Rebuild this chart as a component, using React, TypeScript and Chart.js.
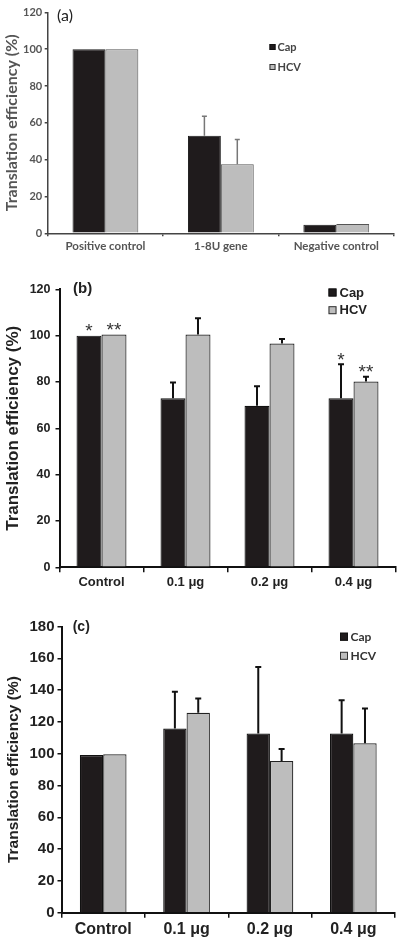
import React, { useEffect, useRef } from "react";
import { Chart, registerables } from "chart.js";

Chart.register(...registerables);

// ---------- DATA ----------
// Panel (a)
const categoriesA = ["Positive control", "1-8U gene", "Negative control"];
const capA = [100, 53, 4.6];
const hcvA = [100, 37.5, 5];
const capErrA = [0, 10.5, 0];
const hcvErrA = [0, 13.5, 0];
const yMaxA = 120;

// Panel (b)
const categoriesB = ["Control", "0.1 μg", "0.2 μg", "0.4 μg"];
const capB = [100, 73, 69.7, 73];
const hcvB = [100.5, 100.5, 96.6, 80.2];
const capErrB = [0, 6.8, 8.5, 14.6];
const hcvErrB = [0, 7, 2, 2];
const capStarsB = ["*", "", "", "*"];
const hcvStarsB = ["**", "", "", "**"];
const yMaxB = 120;

// Panel (c)
const categoriesC = ["Control", "0.1 μg", "0.2 μg", "0.4 μg"];
const capC = [99.2, 115.8, 112.7, 112.7];
const hcvC = [99.6, 125.7, 95.4, 106.5];
const capErrC = [0, 23.2, 41.8, 20.9];
const hcvErrC = [0, 9, 7.6, 21.9];
const yMaxC = 180;

const seriesNames = ["Cap", "HCV"];
const yTitle = "Translation efficiency (%)";
const yStep = 20;

// ---------- STYLE ----------
const ARIAL = "'Liberation Sans', Arial, sans-serif";
const CALI = "Lato, 'Open Sans', sans-serif";

type Panel = {
  label: string;
  categories: string[];
  cap: number[];
  hcv: number[];
  capErr: number[];
  hcvErr: number[];
  capStars?: string[];
  hcvStars?: string[];
  yMax: number;
  st: any;
};

const styleA = {
  height: 258,
  padTop: 12.3,
  padRight: 6,
  yAxisW: 47.7,
  xAxisH: 24.7,
  catPct: 0.57,
  family: CALI,
  tickSize: 11,
  tickWeight: "bold",
  textColor: "#555",
  axisColor: "#444",
  axisWidth: 1.5,
  yTickLen: 3,
  yTickPad: 2.5,
  xTickLen: 3,
  xTickPad: 3.5,
  xTickSize: 11.5,
  titleSize: 16,
  titleWeight: "bold",
  titleFamily: CALI,
  titlePad: 2.4,
  capColor: "#1f1b1c",
  capBorder: "#1a1a1a",
  hcvColor: "#bdbdbd",
  hcvBorder: "#555",
  barBorder: 1,
  errColor: "#777",
  errWidth: 1.5,
  errCap: 4,
  legend: { x: 269.5, y1: 47, y2: 67, box: 6, font: "bold 11px " + CALI, color: "#444", gap: 2 },
  panelLabel: { x: 57, y: 16, font: "16px " + CALI, color: "#222" },
  starFont: "19px " + ARIAL,
};

const styleB = {
  height: 342,
  padTop: 31.3,
  padRight: 4.5,
  yAxisW: 59.5,
  xAxisH: 32.7,
  catPct: 0.595,
  family: ARIAL,
  tickSize: 12.5,
  tickWeight: "bold",
  textColor: "#222",
  axisColor: "#111",
  axisWidth: 2,
  yTickLen: 4,
  yTickPad: 5,
  xTickLen: 5,
  xTickPad: 2.6,
  xTickSize: 13,
  titleSize: 17,
  titleWeight: "bold",
  titleFamily: ARIAL,
  titlePad: 3.1,
  capColor: "#1f1b1c",
  capBorder: "#111",
  hcvColor: "#bdbdbd",
  hcvBorder: "#222",
  barBorder: 1.2,
  errColor: "#111",
  errWidth: 2,
  errCap: 5,
  legend: { x: 328.5, y1: 34.5, y2: 52.2, box: 8, font: "bold 13px " + ARIAL, color: "#222", gap: 3 },
  panelLabel: { x: 73, y: 31.3, font: "bold 15px " + ARIAL, color: "#222" },
  starFont: "19px " + ARIAL,
};

const styleC = {
  height: 343,
  padTop: 26.5,
  padRight: 5,
  yAxisW: 61.5,
  xAxisH: 30.3,
  catPct: 0.56,
  family: ARIAL,
  tickSize: 15,
  tickWeight: "bold",
  textColor: "#222",
  axisColor: "#111",
  axisWidth: 2,
  yTickLen: 4,
  yTickPad: 3,
  xTickLen: 5,
  xTickPad: 2.7,
  xTickSize: 16,
  titleSize: 15.5,
  titleWeight: "bold",
  titleFamily: ARIAL,
  titlePad: 4.7,
  capColor: "#1f1b1c",
  capBorder: "#111",
  hcvColor: "#bdbdbd",
  hcvBorder: "#222",
  barBorder: 1.2,
  errColor: "#111",
  errWidth: 2,
  errCap: 5,
  legend: { x: 340, y1: 36.7, y2: 55.8, box: 8, font: "bold 12px " + CALI, color: "#333", gap: 2.5 },
  panelLabel: { x: 72.7, y: 26.7, font: "bold 14px " + ARIAL, color: "#222" },
  starFont: "19px " + ARIAL,
};

const panels: Panel[] = [
  { label: "(a)", categories: categoriesA, cap: capA, hcv: hcvA, capErr: capErrA, hcvErr: hcvErrA, yMax: yMaxA, st: styleA },
  {
    label: "(b)", categories: categoriesB, cap: capB, hcv: hcvB, capErr: capErrB, hcvErr: hcvErrB,
    capStars: capStarsB, hcvStars: hcvStarsB, yMax: yMaxB, st: styleB,
  },
  { label: "(c)", categories: categoriesC, cap: capC, hcv: hcvC, capErr: capErrC, hcvErr: hcvErrC, yMax: yMaxC, st: styleC },
];

// ---------- PLUGIN ----------
const overlayPlugin = {
  id: "overlay",
  afterDatasetsDraw(chart: any, _args: any, opts: any) {
    const p: Panel = opts.panel;
    if (!p) return;
    const st = p.st;
    const ctx: CanvasRenderingContext2D = chart.ctx;
    const yScale = chart.scales.y;
    const errs = [p.capErr, p.hcvErr];
    const vals = [p.cap, p.hcv];
    const stars = [p.capStars, p.hcvStars];
    ctx.save();
    for (let di = 0; di < 2; di++) {
      const meta = chart.getDatasetMeta(di);
      meta.data.forEach((bar: any, i: number) => {
        const v = vals[di][i];
        const e = errs[di][i];
        let topVal = v;
        if (e) {
          topVal = v + e;
          const y0 = yScale.getPixelForValue(v);
          const y1 = yScale.getPixelForValue(topVal);
          ctx.strokeStyle = st.errColor;
          ctx.lineWidth = st.errWidth;
          ctx.beginPath();
          ctx.moveTo(bar.x, y0);
          ctx.lineTo(bar.x, y1);
          ctx.moveTo(bar.x - st.errCap / 2 - 0.5, y1);
          ctx.lineTo(bar.x + st.errCap / 2 + 0.5, y1);
          ctx.stroke();
        }
        const s = stars[di] ? stars[di]![i] : "";
        if (s) {
          const yt = yScale.getPixelForValue(topVal);
          ctx.fillStyle = "#333";
          ctx.font = st.starFont;
          ctx.textAlign = "center";
          ctx.textBaseline = "alphabetic";
          ctx.fillText(s, bar.x, yt + 1.5);
        }
      });
    }
    // legend
    const lg = st.legend;
    const items = [
      { name: seriesNames[0], fill: st.capColor, stroke: "#111", y: lg.y1 },
      { name: seriesNames[1], fill: st.hcvColor, stroke: "#333", y: lg.y2 },
    ];
    items.forEach((it) => {
      ctx.fillStyle = it.fill;
      ctx.fillRect(lg.x, it.y - lg.box / 2, lg.box, lg.box);
      ctx.strokeStyle = it.stroke;
      ctx.lineWidth = 1;
      ctx.strokeRect(lg.x + 0.5, it.y - lg.box / 2 + 0.5, lg.box - 1, lg.box - 1);
      ctx.fillStyle = lg.color;
      ctx.font = lg.font;
      ctx.textAlign = "left";
      ctx.textBaseline = "middle";
      ctx.fillText(it.name, lg.x + lg.box + lg.gap, it.y + 0.5);
    });
    // panel label
    const pl = st.panelLabel;
    ctx.fillStyle = pl.color;
    ctx.font = pl.font;
    ctx.textAlign = "left";
    ctx.textBaseline = "middle";
    ctx.fillText(p.label, pl.x, pl.y);
    ctx.restore();
  },
};

function buildConfig(p: Panel): any {
  const st = p.st;
  return {
    type: "bar",
    data: {
      labels: p.categories,
      datasets: [
        {
          label: seriesNames[0],
          data: p.cap,
          backgroundColor: st.capColor,
          borderColor: st.capBorder,
          borderWidth: st.barBorder,
          categoryPercentage: st.catPct,
          barPercentage: 1,
        },
        {
          label: seriesNames[1],
          data: p.hcv,
          backgroundColor: st.hcvColor,
          borderColor: st.hcvBorder,
          borderWidth: st.barBorder,
          categoryPercentage: st.catPct,
          barPercentage: 1,
        },
      ],
    },
    options: {
      responsive: false,
      animation: false,
      layout: { padding: { left: 0, right: st.padRight, top: st.padTop, bottom: 0 } },
      plugins: {
        legend: { display: false },
        tooltip: { enabled: false },
        overlay: { panel: p },
      },
      scales: {
        x: {
          type: "category",
          offset: true,
          grid: {
            display: true,
            drawOnChartArea: false,
            drawTicks: true,
            tickLength: st.xTickLen,
            color: st.axisColor,
            lineWidth: 1.5,
            offset: true,
          },
          border: { display: true, color: st.axisColor, width: st.axisWidth },
          ticks: {
            font: { family: st.family, size: st.xTickSize, weight: st.tickWeight },
            color: st.textColor,
            padding: st.xTickPad,
            maxRotation: 0,
            autoSkip: false,
          },
          afterFit: (s: any) => {
            s.height = st.xAxisH;
          },
        },
        y: {
          min: 0,
          max: p.yMax,
          ticks: {
            stepSize: yStep,
            font: { family: st.family, size: st.tickSize, weight: st.tickWeight },
            color: st.textColor,
            padding: st.yTickPad,
          },
          grid: {
            display: true,
            drawOnChartArea: false,
            drawTicks: true,
            tickLength: st.yTickLen,
            color: st.axisColor,
            lineWidth: 1.5,
          },
          border: { display: true, color: st.axisColor, width: st.axisWidth },
          title: {
            display: true,
            text: yTitle,
            color: st.textColor,
            font: { family: st.titleFamily, size: st.titleSize, weight: st.titleWeight },
            padding: { top: st.titlePad, bottom: 0 },
          },
          afterFit: (s: any) => {
            s.width = st.yAxisW;
          },
        },
      },
    },
    plugins: [overlayPlugin],
  };
}

function PanelChart({ panel }: { panel: Panel }) {
  const ref = useRef<HTMLCanvasElement | null>(null);
  useEffect(() => {
    if (!ref.current) return;
    const chart = new Chart(ref.current, buildConfig(panel));
    return () => chart.destroy();
  }, [panel]);
  return <canvas ref={ref} width={400} height={panel.st.height} style={{ display: "block", width: 400, height: panel.st.height }} />;
}

export default function App() {
  return (
    <div style={{ position: "absolute", left: 0, top: 0, width: 400, height: 943, background: "#fff" }}>
      {panels.map((p) => (
        <PanelChart key={p.label} panel={p} />
      ))}
    </div>
  );
}
